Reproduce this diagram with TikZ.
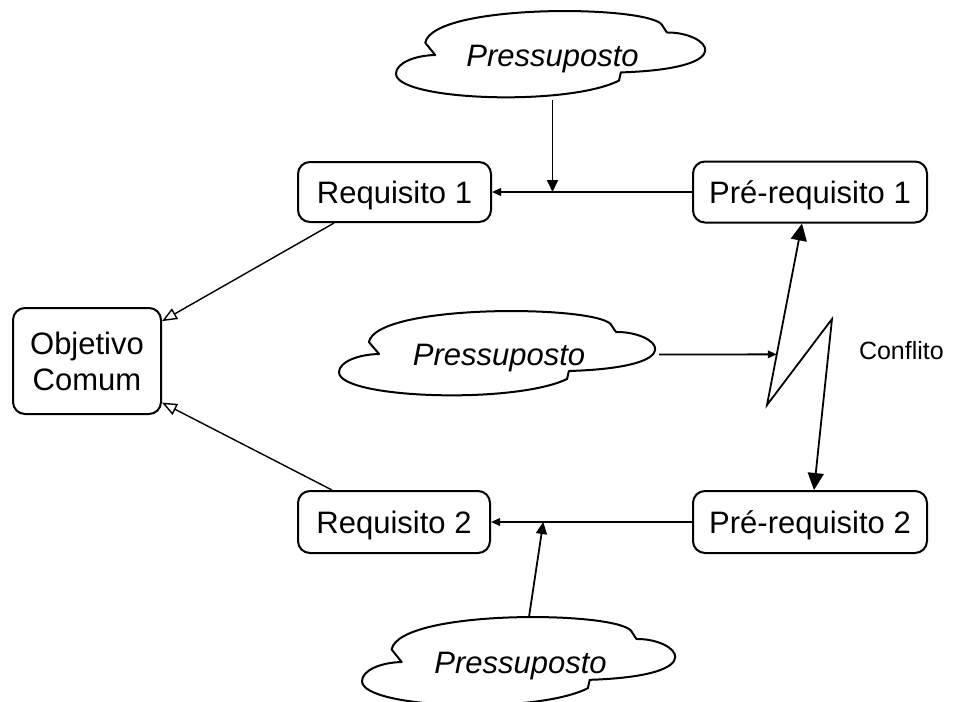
\documentclass[tikz,border=0pt]{standalone}
\usepackage{fontspec}
\setmainfont{Liberation Sans}
\usetikzlibrary{arrows.meta,calc}

% Cloud outline drawn over a node: #1 node name, #2 width, #3 height (in picture units)
\newcommand\drawcloud[3]{%
  \draw[cloudline, shift={(#1.north west)}, xscale=#2, yscale=#3]
    (0.094,0.365) .. controls (0.12,-0.1) and (0.84,-0.07) .. (0.858,0.176)
    -- (0.871,0.247)
    .. controls (1.0,0.24) and (1.12,0.66) .. (0.723,0.706)
    -- (0.717,0.8)
    .. controls (0.55,1.1) and (0.0,1.03) .. (0,0.72)
    .. controls (0,0.6) and (0.06,0.51) .. (0.126,0.506)
    -- cycle;}

\begin{document}
\begin{tikzpicture}[x=0.5pt, y=-0.5pt, line width=1pt,
  boxbase/.style={draw, rounded corners=6pt, line width=1pt, inner sep=0pt,
    font=\fontsize{15.5pt}{18pt}\selectfont},
  box/.style={boxbase, text height=11.1pt, text depth=0pt},
  cloudtext/.style={inner sep=0pt, font=\fontsize{15.5pt}{18pt}\selectfont\itshape,
    text height=11.1pt, text depth=0pt},
  cloudline/.style={line width=1pt, line join=round},
  smallarr/.style={line width=0.9pt, -{Triangle[length=4.5pt,width=3.8pt]}},
  juncarr/.style={line width=0.9pt, -{Triangle[length=6pt,width=5.5pt]}},
  bigarr/.style={line width=0.9pt, {Triangle[length=8.5pt,width=8pt]}-{Triangle[length=8.5pt,width=8pt]}},
  openarr/.style={line width=0.7pt, -{Triangle[open,length=7.5pt,width=6pt]}}]

\useasboundingbox (0,0) rectangle (954,702);
\clip (0,0) rectangle (954,702);

% boxes
\node[box, minimum width=96.5pt, minimum height=30pt] (req1) at (394.5,192) {Requisito 1};
\node[box, minimum width=96pt, minimum height=31pt] (req2) at (394,522) {Requisito 2};
\node[box, minimum width=117pt, minimum height=30.5pt] (pre1) at (810,192) {Pré-requisito 1};
\node[box, minimum width=117pt, minimum height=31pt] (pre2) at (810,522) {Pré-requisito 2};
\node[boxbase, align=center, minimum width=74pt, minimum height=53pt] (obj) at (87,361) {Objetivo\\Comum};

% clouds
\node[cloudtext, minimum width=155.5pt, minimum height=43.5pt] (cloudT) at (552.5,55.5) {Pressuposto};
\drawcloud{cloudT}{311}{87}
\node[cloudtext, minimum width=159pt, minimum height=42.5pt] (cloudM) at (499,354.5) {Pressuposto};
\drawcloud{cloudM}{318}{85}
\node[cloudtext, minimum width=157.5pt, minimum height=44.5pt] (cloudB) at (520.5,662.5) {Pressuposto};
\drawcloud{cloudB}{315}{89}

% conflict label
\node[anchor=base west, inner sep=0pt, font=\fontsize{12.5pt}{15pt}\selectfont] (conf) at (858,359) {Conflito};

% upper chain
\coordinate (j1) at (cloudT.south |- req1.east);
\draw[smallarr] (pre1.west) -- (req1.east);
\draw[juncarr] (cloudT.south) -- (j1);

% lower chain
\coordinate (j2) at ($(req2.east)!0.26!(pre2.west)$);
\draw[smallarr] (pre2.west) -- (req2.east);
\draw[juncarr] ($(cloudB.north)+(8.5,0)$) -- (j2);

% requirements towards the common goal
\draw[openarr] ($(req1.south west)!0.19!(req1.south east)$) -- (obj.28);
\draw[openarr] ($(req2.north west)!0.18!(req2.north east)$) -- (obj.-29);

% conflict zigzag
\coordinate (s1) at ($(pre1.south)+(-8,0)$);
\coordinate (z1) at (767,405);
\coordinate (z2) at (832,319);
\coordinate (s2) at ($(pre2.north)+(4,0)$);
\draw[bigarr, line join=miter] (s1) -- (z1) -- (z2) -- (s2);
\coordinate (k) at ($(s1)!0.721!(z1)$);
\draw[smallarr] (cloudM.east) -- (k);

\end{tikzpicture}
\end{document}
